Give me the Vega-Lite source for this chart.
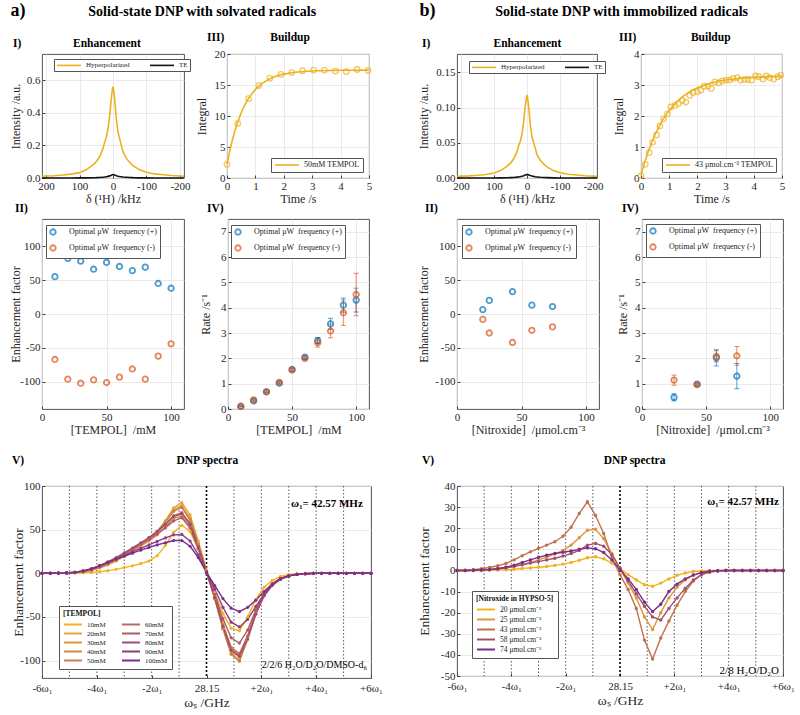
{
 "$schema": "https://vega.github.io/schema/vega-lite/v6.json",
 "padding": {"left": 8, "top": 2, "right": 0, "bottom": 0},
 "background": "white",
 "config": {
  "font": "Liberation Serif",
  "view": {"stroke": "#404040", "strokeWidth": 0.9},
  "axis": {"labelFont": "Liberation Serif", "labelFontSize": 11, "labelColor": "#262626", "titleFont": "Liberation Serif", "titleFontSize": 12, "titleFontWeight": "normal", "titleColor": "#262626", "domain": false, "gridColor": "#e4e4e4", "gridWidth": 0.8, "tickColor": "#404040", "tickSize": -3, "labelPadding": 5, "titlePadding": 2, "labelFlush": false, "labelOverlap": false},
  "legend": {"labelFont": "Liberation Serif", "titleFont": "Liberation Serif", "labelColor": "#222", "titleColor": "#111"},
  "title": {"font": "Liberation Serif", "fontSize": 11.5, "fontWeight": "bold", "color": "#000", "anchor": "start", "frame": "group", "offset": 5},
  "text": {"font": "Liberation Serif"}
 },
 "datasets": {
  "specL": [
   {"k":212,"Hyperpolarized":0.011,"TE":0},{"k":200,"Hyperpolarized":0.012,"TE":0},{"k":175,"Hyperpolarized":0.014,"TE":0},{"k":150,"Hyperpolarized":0.018,"TE":0},{"k":125,"Hyperpolarized":0.024,"TE":0.0002},{"k":100,"Hyperpolarized":0.033,"TE":0.0005},{"k":80,"Hyperpolarized":0.05,"TE":0.001},{"k":60,"Hyperpolarized":0.08,"TE":0.0015},{"k":50,"Hyperpolarized":0.1,"TE":0.002},{"k":40,"Hyperpolarized":0.13,"TE":0.003},{"k":30,"Hyperpolarized":0.18,"TE":0.005},{"k":25,"Hyperpolarized":0.22,"TE":0.006},{"k":20,"Hyperpolarized":0.25,"TE":0.008},{"k":15,"Hyperpolarized":0.3,"TE":0.01},{"k":10,"Hyperpolarized":0.38,"TE":0.013},{"k":5,"Hyperpolarized":0.49,"TE":0.017},{"k":2,"Hyperpolarized":0.54,"TE":0.02},{"k":0,"Hyperpolarized":0.56,"TE":0.021},{"k":-2,"Hyperpolarized":0.54,"TE":0.02},{"k":-5,"Hyperpolarized":0.48,"TE":0.018},{"k":-10,"Hyperpolarized":0.36,"TE":0.014},{"k":-15,"Hyperpolarized":0.28,"TE":0.011},{"k":-20,"Hyperpolarized":0.24,"TE":0.009},{"k":-25,"Hyperpolarized":0.2,"TE":0.0075},{"k":-30,"Hyperpolarized":0.16,"TE":0.006},{"k":-40,"Hyperpolarized":0.12,"TE":0.0045},{"k":-50,"Hyperpolarized":0.095,"TE":0.003},{"k":-60,"Hyperpolarized":0.075,"TE":0.002},{"k":-80,"Hyperpolarized":0.05,"TE":0.001},{"k":-100,"Hyperpolarized":0.035,"TE":0.0005},{"k":-125,"Hyperpolarized":0.025,"TE":0.0002},{"k":-150,"Hyperpolarized":0.02,"TE":0},{"k":-175,"Hyperpolarized":0.015,"TE":0},{"k":-200,"Hyperpolarized":0.012,"TE":0},{"k":-212,"Hyperpolarized":0.011,"TE":0}
  ],
  "specR": [
   {"k":212,"Hyperpolarized":0.0023,"TE":0},{"k":200,"Hyperpolarized":0.0025,"TE":0},{"k":175,"Hyperpolarized":0.003,"TE":0},{"k":150,"Hyperpolarized":0.0038,"TE":0},{"k":125,"Hyperpolarized":0.005,"TE":0},{"k":100,"Hyperpolarized":0.007,"TE":0.0001},{"k":80,"Hyperpolarized":0.0105,"TE":0.0002},{"k":60,"Hyperpolarized":0.0168,"TE":0.0004},{"k":50,"Hyperpolarized":0.021,"TE":0.0005},{"k":40,"Hyperpolarized":0.0273,"TE":0.0007},{"k":30,"Hyperpolarized":0.0378,"TE":0.0012},{"k":25,"Hyperpolarized":0.0462,"TE":0.0015},{"k":20,"Hyperpolarized":0.0525,"TE":0.002},{"k":15,"Hyperpolarized":0.063,"TE":0.0025},{"k":10,"Hyperpolarized":0.08,"TE":0.0032},{"k":5,"Hyperpolarized":0.103,"TE":0.0042},{"k":2,"Hyperpolarized":0.113,"TE":0.0048},{"k":0,"Hyperpolarized":0.118,"TE":0.005},{"k":-2,"Hyperpolarized":0.113,"TE":0.0048},{"k":-5,"Hyperpolarized":0.101,"TE":0.0043},{"k":-10,"Hyperpolarized":0.0756,"TE":0.0035},{"k":-15,"Hyperpolarized":0.0588,"TE":0.0028},{"k":-20,"Hyperpolarized":0.0504,"TE":0.0023},{"k":-25,"Hyperpolarized":0.042,"TE":0.0018},{"k":-30,"Hyperpolarized":0.0336,"TE":0.0015},{"k":-40,"Hyperpolarized":0.0252,"TE":0.001},{"k":-50,"Hyperpolarized":0.02,"TE":0.0007},{"k":-60,"Hyperpolarized":0.0158,"TE":0.0005},{"k":-80,"Hyperpolarized":0.0105,"TE":0.0002},{"k":-100,"Hyperpolarized":0.0074,"TE":0.0001},{"k":-125,"Hyperpolarized":0.0053,"TE":0},{"k":-150,"Hyperpolarized":0.0042,"TE":0},{"k":-175,"Hyperpolarized":0.0032,"TE":0},{"k":-200,"Hyperpolarized":0.0025,"TE":0},{"k":-212,"Hyperpolarized":0.0023,"TE":0}
  ],
  "fitL": [{"t":0,"y":2.2},{"t":0.1,"y":4.43},{"t":0.2,"y":6.34},{"t":0.3,"y":7.96},{"t":0.4,"y":9.34},{"t":0.5,"y":10.53},{"t":0.6,"y":11.53},{"t":0.7,"y":12.4},{"t":0.8,"y":13.13},{"t":1.0,"y":14.29},{"t":1.2,"y":15.14},{"t":1.4,"y":15.75},{"t":1.6,"y":16.2},{"t":1.8,"y":16.53},{"t":2.0,"y":16.76},{"t":2.4,"y":17.06},{"t":2.8,"y":17.22},{"t":3.2,"y":17.31},{"t":3.6,"y":17.35},{"t":4.0,"y":17.37},{"t":4.5,"y":17.39},{"t":5.0,"y":17.4}],
  "ptsL": [{"t":0,"y":2.2},{"t":0.38,"y":8.8},{"t":0.76,"y":12.8},{"t":1.12,"y":14.9},{"t":1.51,"y":16.1},{"t":1.9,"y":16.7},{"t":2.28,"y":17.0},{"t":2.66,"y":17.3},{"t":3.05,"y":17.4},{"t":3.43,"y":17.4},{"t":3.82,"y":17.25},{"t":4.2,"y":17.15},{"t":4.58,"y":17.5},{"t":4.97,"y":17.35}],
  "fitR": [{"t":0,"y":0.1},{"t":0.1,"y":0.42},{"t":0.25,"y":0.84},{"t":0.5,"y":1.41},{"t":0.75,"y":1.85},{"t":1.0,"y":2.18},{"t":1.25,"y":2.44},{"t":1.5,"y":2.64},{"t":1.75,"y":2.79},{"t":2.0,"y":2.91},{"t":2.5,"y":3.07},{"t":3.0,"y":3.16},{"t":3.5,"y":3.22},{"t":4.0,"y":3.25},{"t":4.5,"y":3.27},{"t":5.0,"y":3.28}],
  "ptsR": [{"t":0,"y":0.08},{"t":0.15,"y":0.44},{"t":0.29,"y":0.82},{"t":0.41,"y":1.15},{"t":0.55,"y":1.39},{"t":0.67,"y":1.68},{"t":0.8,"y":1.91},{"t":0.94,"y":2.07},{"t":1.06,"y":2.29},{"t":1.2,"y":2.34},{"t":1.33,"y":2.4},{"t":1.47,"y":2.5},{"t":1.59,"y":2.45},{"t":1.73,"y":2.67},{"t":1.85,"y":2.76},{"t":2.0,"y":2.78},{"t":2.12,"y":2.83},{"t":2.24,"y":2.96},{"t":2.38,"y":2.96},{"t":2.49,"y":2.89},{"t":2.62,"y":3.1},{"t":2.76,"y":3.07},{"t":2.88,"y":3.13},{"t":3.02,"y":3.16},{"t":3.14,"y":3.16},{"t":3.27,"y":3.21},{"t":3.41,"y":3.24},{"t":3.53,"y":3.16},{"t":3.67,"y":3.18},{"t":3.79,"y":3.18},{"t":3.92,"y":3.16},{"t":4.06,"y":3.29},{"t":4.18,"y":3.27},{"t":4.32,"y":3.19},{"t":4.44,"y":3.29},{"t":4.56,"y":3.24},{"t":4.71,"y":3.19},{"t":4.85,"y":3.27},{"t":4.96,"y":3.32}],
  "efL": [{"c":10,"f":"+","e":55},{"c":20,"f":"+","e":82},{"c":30,"f":"+","e":78},{"c":40,"f":"+","e":66},{"c":50,"f":"+","e":76},{"c":60,"f":"+","e":70},{"c":70,"f":"+","e":64},{"c":80,"f":"+","e":69},{"c":90,"f":"+","e":45},{"c":100,"f":"+","e":38},{"c":10,"f":"-","e":-67},{"c":20,"f":"-","e":-96},{"c":30,"f":"-","e":-102},{"c":40,"f":"-","e":-97},{"c":50,"f":"-","e":-101},{"c":60,"f":"-","e":-93},{"c":70,"f":"-","e":-81},{"c":80,"f":"-","e":-96},{"c":90,"f":"-","e":-62},{"c":100,"f":"-","e":-44}],
  "rateL": [{"c":10,"f":"+","r":0.1,"err":0.02},{"c":20,"f":"+","r":0.32,"err":0.04},{"c":30,"f":"+","r":0.68,"err":0.03},{"c":40,"f":"+","r":1.02,"err":0.04},{"c":50,"f":"+","r":1.56,"err":0.05},{"c":60,"f":"+","r":2.05,"err":0.06},{"c":70,"f":"+","r":2.7,"err":0.12},{"c":80,"f":"+","r":3.36,"err":0.22},{"c":90,"f":"+","r":4.1,"err":0.28},{"c":100,"f":"+","r":4.3,"err":0.47},{"c":10,"f":"-","r":0.11,"err":0.02},{"c":20,"f":"-","r":0.36,"err":0.04},{"c":30,"f":"-","r":0.68,"err":0.04},{"c":40,"f":"-","r":1.05,"err":0.04},{"c":50,"f":"-","r":1.54,"err":0.05},{"c":60,"f":"-","r":2.0,"err":0.05},{"c":70,"f":"-","r":2.62,"err":0.18},{"c":80,"f":"-","r":3.08,"err":0.27},{"c":90,"f":"-","r":3.8,"err":0.5},{"c":100,"f":"-","r":4.52,"err":0.84}],
  "efR": [{"c":20,"f":"+","e":6.5},{"c":25,"f":"+","e":20},{"c":43,"f":"+","e":33},{"c":58,"f":"+","e":13},{"c":74,"f":"+","e":11},{"c":20,"f":"-","e":-8},{"c":25,"f":"-","e":-28},{"c":43,"f":"-","e":-42},{"c":58,"f":"-","e":-24},{"c":74,"f":"-","e":-19}],
  "rateR": [{"c":25,"f":"+","r":0.46,"err":0.14},{"c":43,"f":"+","r":0.98,"err":0.04},{"c":58,"f":"+","r":2.02,"err":0.32},{"c":74,"f":"+","r":1.3,"err":0.5},{"c":25,"f":"-","r":1.14,"err":0.2},{"c":43,"f":"-","r":0.96,"err":0.03},{"c":58,"f":"-","r":2.08,"err":0.22},{"c":74,"f":"-","r":2.1,"err":0.37}],
  "grid": [{"g":-5},{"g":-4},{"g":-3},{"g":-2},{"g":-1},{"g":1},{"g":2},{"g":3},{"g":4},{"g":5}],
  "dnpL": [
   {"u":-6,"10":0,"20":0,"30":0,"40":0,"50":0,"60":0,"70":0,"80":0,"90":0,"100":0},
   {"u":-5.7,"10":0,"20":0,"30":0,"40":0,"50":0,"60":0,"70":0,"80":0,"90":0.1,"100":0.1},
   {"u":-5.4,"10":0,"20":0.1,"30":0.1,"40":0.1,"50":0.1,"60":0.1,"70":0.2,"80":0.2,"90":0.2,"100":0.2},
   {"u":-5.1,"10":0.1,"20":0.3,"30":0.3,"40":0.3,"50":0.4,"60":0.4,"70":0.5,"80":0.5,"90":0.5,"100":0.5},
   {"u":-4.8,"10":0.2,"20":0.7,"30":0.8,"40":0.8,"50":0.9,"60":1,"70":1,"80":1.1,"90":1.2,"100":1.2},
   {"u":-4.5,"10":0.5,"20":1.6,"30":1.8,"40":1.8,"50":2,"60":2.2,"70":2.3,"80":2.5,"90":2.7,"100":2.8},
   {"u":-4.2,"10":1,"20":3.2,"30":3.6,"40":3.6,"50":4,"60":4.3,"70":4.5,"80":4.8,"90":5,"100":5.2},
   {"u":-3.9,"10":1.8,"20":6,"30":6.6,"40":6.6,"50":7,"60":7.5,"70":8,"80":8.5,"90":8.5,"100":8.8},
   {"u":-3.6,"10":3,"20":9.5,"30":10.5,"40":10.5,"50":11,"60":11.5,"70":12,"80":13,"90":12.5,"100":12.5},
   {"u":-3.3,"10":4.5,"20":14,"30":15.5,"40":15,"50":16,"60":16.5,"70":17,"80":18,"90":16.5,"100":16},
   {"u":-3,"10":6.5,"20":19.5,"30":21,"40":20,"50":21.5,"60":22,"70":22.5,"80":23.5,"90":20.5,"100":19.5},
   {"u":-2.7,"10":8.5,"20":25.5,"30":27,"40":25.5,"50":27.5,"60":28,"70":28,"80":29,"90":24.5,"100":23},
   {"u":-2.4,"10":11,"20":31.5,"30":33,"40":31,"50":33.5,"60":34,"70":33.5,"80":35,"90":28.5,"100":26.5},
   {"u":-2.1,"10":14,"20":38.5,"30":40,"40":37,"50":40,"60":40,"70":39,"80":41,"90":32.5,"100":29.5},
   {"u":-1.8,"10":20,"20":47,"30":48,"40":44,"50":47.5,"60":47,"70":45,"80":48,"90":36.5,"100":32.5},
   {"u":-1.5,"10":32,"20":60,"30":60,"40":53,"50":58,"60":56,"70":52,"80":56,"90":40.5,"100":35},
   {"u":-1.2,"10":47,"20":75,"30":73,"40":63,"50":71,"60":66,"70":60,"80":65,"90":44,"100":37.5},
   {"u":-0.9,"10":55,"20":81,"30":77.5,"40":65.5,"50":75.5,"60":69.5,"70":63.5,"80":68.5,"90":44.5,"100":37.5},
   {"u":-0.6,"10":48,"20":67,"30":63,"40":53,"50":61,"60":57,"70":52,"80":56,"90":37,"100":31},
   {"u":-0.3,"10":28,"20":37,"30":34,"40":28,"50":33,"60":31,"70":28,"80":30,"90":21,"100":18},
   {"u":0,"10":2,"20":4,"30":2,"40":1,"50":2,"60":2,"70":1.5,"80":1.5,"90":1,"100":1},
   {"u":0.3,"10":-22,"20":-25,"30":-29,"40":-28,"50":-29,"60":-27,"70":-24,"80":-28,"90":-18,"100":-14},
   {"u":0.6,"10":-46,"20":-58,"30":-64,"40":-61,"50":-63,"60":-59,"70":-52,"80":-61,"90":-39,"100":-29},
   {"u":0.9,"10":-63,"20":-86,"30":-93,"40":-89,"50":-92,"60":-85,"70":-74,"80":-88,"90":-56,"100":-40},
   {"u":1.2,"10":-66,"20":-95,"30":-101,"40":-96,"50":-100,"60":-92,"70":-80,"80":-95,"90":-61.5,"100":-44},
   {"u":1.5,"10":-50,"20":-72,"30":-75,"40":-72,"50":-76,"60":-72,"70":-65,"80":-75,"90":-53,"100":-39},
   {"u":1.8,"10":-30,"20":-43,"30":-44,"40":-43,"50":-46,"60":-45,"70":-42,"80":-47,"90":-38,"100":-31},
   {"u":2.1,"10":-16,"20":-23,"30":-24,"40":-23,"50":-25,"60":-25,"70":-24,"80":-26,"90":-24,"100":-21},
   {"u":2.4,"10":-8,"20":-12,"30":-12.5,"40":-12,"50":-13,"60":-13,"70":-13,"80":-14,"90":-13,"100":-12},
   {"u":2.7,"10":-3.5,"20":-6,"30":-6.2,"40":-6,"50":-6.5,"60":-6.5,"70":-6.5,"80":-7,"90":-6.5,"100":-6},
   {"u":3,"10":-1.5,"20":-2.8,"30":-3,"40":-2.8,"50":-3,"60":-3,"70":-3,"80":-3.2,"90":-3,"100":-3},
   {"u":3.3,"10":-0.6,"20":-1.2,"30":-1.3,"40":-1.2,"50":-1.3,"60":-1.3,"70":-1.3,"80":-1.4,"90":-1.3,"100":-1.3},
   {"u":3.6,"10":-0.2,"20":-0.5,"30":-0.5,"40":-0.5,"50":-0.5,"60":-0.5,"70":-0.5,"80":-0.5,"90":-0.5,"100":-0.5},
   {"u":3.9,"10":0,"20":-0.1,"30":-0.1,"40":-0.1,"50":-0.1,"60":-0.1,"70":-0.1,"80":-0.1,"90":-0.1,"100":-0.1},
   {"u":4.2,"10":0,"20":0,"30":0,"40":0,"50":0,"60":0,"70":0,"80":0,"90":0,"100":0},
   {"u":4.5,"10":0,"20":0,"30":0,"40":0,"50":0,"60":0,"70":0,"80":0,"90":0,"100":0},
   {"u":4.8,"10":0,"20":0,"30":0,"40":0,"50":0,"60":0,"70":0,"80":0,"90":0,"100":0},
   {"u":5.1,"10":0,"20":0,"30":0,"40":0,"50":0,"60":0,"70":0,"80":0,"90":0,"100":0},
   {"u":5.4,"10":0,"20":0,"30":0,"40":0,"50":0,"60":0,"70":0,"80":0,"90":0,"100":0},
   {"u":5.7,"10":0,"20":0,"30":0,"40":0,"50":0,"60":0,"70":0,"80":0,"90":0,"100":0},
   {"u":6,"10":0,"20":0,"30":0,"40":0,"50":0,"60":0,"70":0,"80":0,"90":0,"100":0}
  ],
  "dnpR": [
   {"u":-6,"20":0,"25":0,"43":0,"58":0,"74":0},
   {"u":-5.7,"20":0,"25":0,"43":0.1,"58":0,"74":0},
   {"u":-5.4,"20":0,"25":0,"43":0.3,"58":0.1,"74":0.1},
   {"u":-5.1,"20":0,"25":0.2,"43":0.8,"58":0.3,"74":0.2},
   {"u":-4.8,"20":0.1,"25":0.4,"43":1.4,"58":0.5,"74":0.4},
   {"u":-4.5,"20":0.2,"25":0.8,"43":2.2,"58":0.8,"74":0.8},
   {"u":-4.2,"20":0.3,"25":1.3,"43":3.3,"58":1.3,"74":1.5},
   {"u":-3.9,"20":0.6,"25":2.0,"43":5.0,"58":2.0,"74":2.5},
   {"u":-3.6,"20":0.9,"25":2.8,"43":7.0,"58":2.7,"74":3.8},
   {"u":-3.3,"20":1.2,"25":3.8,"43":8.8,"58":3.5,"74":5.0},
   {"u":-3,"20":1.5,"25":5.0,"43":10.5,"58":4.2,"74":6.2},
   {"u":-2.7,"20":1.9,"25":6.3,"43":12.0,"58":5.0,"74":7.2},
   {"u":-2.4,"20":2.4,"25":7.8,"43":13.6,"58":5.8,"74":8.0},
   {"u":-2.1,"20":3.0,"25":9.5,"43":16.2,"58":6.8,"74":8.6},
   {"u":-1.8,"20":3.8,"25":12,"43":20.5,"58":8.0,"74":9.2},
   {"u":-1.5,"20":4.8,"25":15.5,"43":27,"58":9.5,"74":10.0},
   {"u":-1.2,"20":6.0,"25":19,"43":32.5,"58":12,"74":10.7},
   {"u":-0.9,"20":6.5,"25":19.5,"43":26,"58":12.8,"74":10.3},
   {"u":-0.6,"20":5.5,"25":15,"43":17.5,"58":11.5,"74":8.5},
   {"u":-0.3,"20":3.5,"25":8,"43":6,"58":7.5,"74":5},
   {"u":0,"20":0.8,"25":1,"43":-2,"58":1,"74":0.5},
   {"u":0.3,"20":-2,"25":-6,"43":-9,"58":-5,"74":-4},
   {"u":0.6,"20":-4.5,"25":-13,"43":-18,"58":-11,"74":-9},
   {"u":0.9,"20":-6.8,"25":-22,"43":-33,"58":-17,"74":-15},
   {"u":1.2,"20":-7.5,"25":-28,"43":-42,"58":-22,"74":-19.5},
   {"u":1.5,"20":-6,"25":-20,"43":-32,"58":-23.5,"74":-16},
   {"u":1.8,"20":-4,"25":-13,"43":-24,"58":-18,"74":-10},
   {"u":2.1,"20":-2.3,"25":-8,"43":-16.5,"58":-13,"74":-6.5},
   {"u":2.4,"20":-1.2,"25":-4.5,"43":-10,"58":-8.5,"74":-4},
   {"u":2.7,"20":-0.5,"25":-2.2,"43":-5,"58":-4.5,"74":-2.2},
   {"u":3,"20":-0.2,"25":-1,"43":-2,"58":-2,"74":-1},
   {"u":3.3,"20":0,"25":-0.4,"43":-0.7,"58":-0.8,"74":-0.4},
   {"u":3.6,"20":0,"25":-0.1,"43":-0.2,"58":-0.3,"74":-0.1},
   {"u":3.9,"20":0,"25":0,"43":0,"58":0,"74":0},
   {"u":4.2,"20":0,"25":0,"43":0,"58":0,"74":0},
   {"u":4.5,"20":0,"25":0,"43":0,"58":0,"74":0},
   {"u":4.8,"20":0,"25":0,"43":0,"58":0,"74":0},
   {"u":5.1,"20":0,"25":0,"43":0,"58":0,"74":0},
   {"u":5.4,"20":0,"25":0,"43":0,"58":0,"74":0},
   {"u":5.7,"20":0,"25":0,"43":0,"58":0,"74":0},
   {"u":6,"20":0,"25":0,"43":0,"58":0,"74":0}
  ]
 },
 "hconcat": [
  {
   "title": {"text": "a)", "anchor": "start", "frame": "bounds", "fontSize": 18, "offset": -15, "dx": 2},
   "spacing": 18,
   "resolve": {"scale": {"color": "independent"}, "legend": {"color": "independent"}},
   "vconcat": [
    {
     "title": {"text": "Solid-state DNP with solvated radicals", "anchor": "middle", "frame": "bounds", "fontSize": 14, "offset": 12, "dx": 11},
     "spacing": -3,
     "resolve": {"scale": {"color": "independent"}, "legend": {"color": "independent"}},
     "vconcat": [
      {
       "bounds": "flush", "spacing": 43,
       "resolve": {"scale": {"color": "independent"}, "legend": {"color": "independent"}},
       "hconcat": [
        {
         "width": 142, "height": 124,
         "title": {"text": "I)\u00a0\u00a0\u00a0\u00a0\u00a0\u00a0\u00a0\u00a0\u00a0\u00a0\u00a0\u00a0\u00a0\u00a0\u00a0\u00a0\u00a0\u00a0Enhancement", "dx": -29},
         "data": {"name": "specL"},
         "transform": [{"fold": ["Hyperpolarized", "TE"], "as": ["series", "I"]}],
         "mark": {"type": "line", "strokeWidth": 1.6},
         "encoding": {
          "x": {"field": "k", "type": "quantitative", "scale": {"domain": [-212, 212], "reverse": true, "nice": false}, "axis": {"values": [-200, -100, 0, 100, 200], "labelExpr": "replace(datum.label, '−', '-')", "title": "δ (¹H) /kHz"}},
          "y": {"field": "I", "type": "quantitative", "scale": {"domain": [0, 0.76], "nice": false}, "axis": {"values": [0, 0.2, 0.4, 0.6], "title": "Intensity /a.u.", "titleX": -20}},
          "color": {"field": "series", "type": "nominal", "scale": {"domain": ["Hyperpolarized", "TE"], "range": ["#EDB120", "#111111"]}, "legend": {"orient": "none", "legendX": 12, "legendY": 5, "direction": "horizontal", "title": null, "symbolType": "M-1,0H7", "symbolSize": 36, "symbolStrokeWidth": 1.6, "labelFontSize": 7, "labelOffset": 22, "fillColor": "white", "strokeColor": "#555", "padding": 2, "columnPadding": 16}}
         }
        },
        {
         "width": 142, "height": 124,
         "title": {"text": "III)\u00a0\u00a0\u00a0\u00a0\u00a0\u00a0\u00a0\u00a0\u00a0\u00a0\u00a0\u00a0\u00a0\u00a0\u00a0\u00a0Buildup", "dx": -20},
         "encoding": {
          "x": {"field": "t", "type": "quantitative", "scale": {"domain": [0, 5], "nice": false}, "axis": {"values": [0, 1, 2, 3, 4, 5], "title": "Time /s"}},
          "y": {"field": "y", "type": "quantitative", "scale": {"domain": [0, 20], "nice": false}, "axis": {"values": [0, 5, 10, 15, 20], "title": "Integral", "titleX": -19}}
         },
         "layer": [
          {"data": {"name": "fitL"}, "mark": {"type": "line", "strokeWidth": 1.6},
           "encoding": {
            "color": {"datum": "50mM TEMPOL", "type": "nominal", "scale": {"range": ["#EDB120"]}, "legend": {"orient": "bottom-right", "offset": 6, "title": null, "symbolType": "M-1,0H7", "symbolSize": 36, "symbolStrokeWidth": 1.6, "labelOffset": 22, "labelFontSize": 8, "fillColor": "white", "strokeColor": "#555", "padding": 3}}
           }},
          {"data": {"name": "ptsL"}, "mark": {"type": "point", "filled": false, "size": 30, "strokeWidth": 1.3, "color": "#EDB120"}}
         ]
        }
       ]
      },
      {
       "bounds": "flush", "spacing": 44,
       "resolve": {"scale": {"color": "independent"}, "legend": {"color": "independent"}},
       "hconcat": [
        {
         "width": 142, "height": 190,
         "title": {"text": "II)", "dx": -27},
         "data": {"name": "efL"},
         "mark": {"type": "point", "filled": false, "size": 30, "strokeWidth": 1.8},
         "encoding": {
          "x": {"field": "c", "type": "quantitative", "scale": {"domain": [0, 110], "nice": false}, "axis": {"values": [0, 50, 100], "title": "[TEMPOL]\u00a0 /mM"}},
          "y": {"field": "e", "type": "quantitative", "scale": {"domain": [-140, 140], "nice": false}, "axis": {"values": [-100, -50, 0, 50, 100], "labelExpr": "replace(datum.label, '−', '-')", "title": "Enhancement factor", "titleX": -20}},
          "color": {"field": "f", "type": "nominal", "scale": {"domain": ["+", "-"], "range": ["#0072BD", "#D95319"]}, "legend": {"orient": "none", "legendX": 4, "legendY": 6, "title": null, "labelExpr": "'Optimal μW\u00a0 frequency (' + datum.label + ')'", "labelFontSize": 8, "symbolSize": 30, "symbolStrokeWidth": 1.8, "fillColor": "white", "strokeColor": "#555", "padding": 3, "rowPadding": 2, "labelOffset": 12}}
         }
        },
        {
         "width": 141, "height": 190,
         "title": {"text": "IV)", "dx": -21},
         "data": {"name": "rateL"},
         "encoding": {
          "x": {"field": "c", "type": "quantitative", "scale": {"domain": [0, 110], "nice": false}, "axis": {"values": [0, 50, 100], "title": "[TEMPOL]\u00a0 /mM"}},
          "y": {"field": "r", "type": "quantitative", "scale": {"domain": [0, 7.5], "nice": false}, "axis": {"values": [0, 1, 2, 3, 4, 5, 6, 7], "title": "Rate /s⁻¹", "titleX": -16}}
         },
         "resolve": {"legend": {"color": "independent"}},
         "layer": [
          {"mark": {"type": "errorbar", "ticks": {"size": 5}, "thickness": 0.9, "opacity": 0.75}, "encoding": {"yError": {"field": "err"}, "color": {"field": "f", "type": "nominal", "scale": {"domain": ["+", "-"], "range": ["#0072BD", "#D95319"]}, "legend": null}}},
          {"mark": {"type": "point", "filled": false, "size": 30, "strokeWidth": 1.8}, "encoding": {"color": {"field": "f", "type": "nominal", "scale": {"domain": ["+", "-"], "range": ["#0072BD", "#D95319"]}, "legend": {"orient": "none", "legendX": 3, "legendY": 6, "title": null, "labelExpr": "'Optimal μW\u00a0 frequency (' + datum.label + ')'", "labelFontSize": 8, "symbolSize": 30, "symbolStrokeWidth": 1.8, "fillColor": "white", "strokeColor": "#555", "padding": 3, "rowPadding": 2, "labelOffset": 12}}}}
         ]
        }
       ]
      }
     ]
    },
    {
     "width": 329, "height": 192,
     "title": {"text": "V)\u00a0\u00a0\u00a0\u00a0\u00a0\u00a0\u00a0\u00a0\u00a0\u00a0\u00a0\u00a0\u00a0\u00a0\u00a0\u00a0\u00a0\u00a0\u00a0\u00a0\u00a0\u00a0\u00a0\u00a0\u00a0\u00a0\u00a0\u00a0\u00a0\u00a0\u00a0\u00a0\u00a0\u00a0\u00a0\u00a0\u00a0\u00a0\u00a0\u00a0\u00a0\u00a0\u00a0\u00a0\u00a0\u00a0\u00a0\u00a0\u00a0\u00a0\u00a0\u00a0\u00a0DNP spectra", "dx": -30, "offset": 14},
     "layer": [
      {"data": {"name": "grid"}, "mark": {"type": "rule", "strokeDash": [1.5, 2], "strokeWidth": 0.8, "color": "#303030"},
       "encoding": {"x": {"field": "g", "type": "quantitative", "scale": {"domain": [-6, 6], "nice": false}, "axis": {"values": [-6, -4, -2, 0, 2, 4, 6], "labelExpr": "datum.value == 0 ? '28.15' : (datum.value > 0 ? '+' : '-') + abs(datum.value) + 'ω₁'", "grid": false, "labelPadding": 7, "title": "ωₛ /GHz", "titleFontSize": 13.5}}}},
      {"data": {"values": [{}]}, "mark": {"type": "rule", "strokeDash": [2, 2], "strokeWidth": 1.6, "color": "#000"},
       "encoding": {"x": {"datum": 0, "type": "quantitative", "scale": {"domain": [-6, 6], "nice": false}, "axis": {"values": [-6, -4, -2, 0, 2, 4, 6], "labelExpr": "datum.value == 0 ? '28.15' : (datum.value > 0 ? '+' : '-') + abs(datum.value) + 'ω₁'", "grid": false, "labelPadding": 7, "title": "ωₛ /GHz", "titleFontSize": 13.5}}}},
      {"data": {"name": "dnpL"},
       "transform": [{"fold": ["10", "20", "30", "40", "50", "60", "70", "80", "90", "100"], "as": ["conc", "E"]}],
       "mark": {"type": "line", "strokeWidth": 1.4, "point": {"filled": true, "size": 10}},
       "encoding": {
        "x": {"field": "u", "type": "quantitative", "scale": {"domain": [-6, 6], "nice": false}, "axis": {"values": [-6, -4, -2, 0, 2, 4, 6], "labelExpr": "datum.value == 0 ? '28.15' : (datum.value > 0 ? '+' : '-') + abs(datum.value) + 'ω₁'", "grid": false, "labelPadding": 7, "title": "ωₛ /GHz", "titleFontSize": 13.5}},
        "y": {"field": "E", "type": "quantitative", "scale": {"domain": [-120, 100], "nice": false}, "axis": {"values": [-100, -50, 0, 50, 100], "labelExpr": "replace(datum.label, '−', '-')", "title": "Enhancement factor", "titleX": -17, "titleFontSize": 13.5}},
        "color": {"field": "conc", "type": "nominal", "scale": {"domain": ["10", "20", "30", "40", "50", "60", "70", "80", "90", "100"], "range": ["#F2B21C", "#E7A52E", "#DE983C", "#D48B46", "#C97E4E", "#BC6A5A", "#AD5A65", "#9F4C72", "#8E3D80", "#7B2D8B"]}, "legend": {"orient": "none", "legendX": 17, "legendY": 120, "title": "[TEMPOL]", "titleFontSize": 7.5, "titleFontWeight": "bold", "columns": 2, "labelExpr": "datum.label + 'mM'", "labelFontSize": 7, "symbolType": "M-1,0H5", "symbolSize": 36, "symbolStrokeWidth": 2, "labelOffset": 16, "fillColor": "white", "strokeColor": "#555", "padding": 4, "rowPadding": 1, "columnPadding": 12, "titlePadding": 3}}
       }},
      {"data": {"values": [{}]}, "mark": {"type": "text", "align": "right", "baseline": "middle", "fontWeight": "bold", "fontSize": 11},
       "encoding": {"x": {"datum": 5.7, "type": "quantitative", "scale": {"domain": [-6, 6], "nice": false}, "axis": {"values": [-6, -4, -2, 0, 2, 4, 6], "labelExpr": "datum.value == 0 ? '28.15' : (datum.value > 0 ? '+' : '-') + abs(datum.value) + 'ω₁'", "grid": false, "labelPadding": 7, "title": "ωₛ /GHz", "titleFontSize": 13.5}}, "y": {"datum": 79, "type": "quantitative", "scale": {"domain": [-120, 100], "nice": false}, "axis": {"values": [-100, -50, 0, 50, 100], "labelExpr": "replace(datum.label, '−', '-')", "title": "Enhancement factor", "titleX": -17, "titleFontSize": 13.5}}, "text": {"value": "ω₁= 42.57 MHz"}}},
      {"data": {"values": [{}]}, "mark": {"type": "text", "align": "right", "baseline": "middle", "fontSize": 10},
       "encoding": {"x": {"datum": 5.85, "type": "quantitative", "scale": {"domain": [-6, 6], "nice": false}, "axis": {"values": [-6, -4, -2, 0, 2, 4, 6], "labelExpr": "datum.value == 0 ? '28.15' : (datum.value > 0 ? '+' : '-') + abs(datum.value) + 'ω₁'", "grid": false, "labelPadding": 7, "title": "ωₛ /GHz", "titleFontSize": 13.5}}, "y": {"datum": -105, "type": "quantitative", "scale": {"domain": [-120, 100], "nice": false}, "axis": {"values": [-100, -50, 0, 50, 100], "labelExpr": "replace(datum.label, '−', '-')", "title": "Enhancement factor", "titleX": -17, "titleFontSize": 13.5}}, "text": {"value": "2/2/6 H₂O/D₂O/DMSO-d₆"}}}
     ]
    }
   ]
  },
  {
   "title": {"text": "b)", "anchor": "start", "frame": "bounds", "fontSize": 18, "offset": -15, "dx": 3},
   "spacing": 18,
   "resolve": {"scale": {"color": "independent"}, "legend": {"color": "independent"}},
   "vconcat": [
    {
     "title": {"text": "Solid-state DNP with immobilized radicals", "anchor": "middle", "frame": "bounds", "fontSize": 14, "offset": 12, "dx": 20},
     "spacing": -3,
     "resolve": {"scale": {"color": "independent"}, "legend": {"color": "independent"}},
     "vconcat": [
      {
       "bounds": "flush", "spacing": 44,
       "resolve": {"scale": {"color": "independent"}, "legend": {"color": "independent"}},
       "hconcat": [
        {
         "width": 140, "height": 124,
         "title": {"text": "I)\u00a0\u00a0\u00a0\u00a0\u00a0\u00a0\u00a0\u00a0\u00a0\u00a0\u00a0\u00a0\u00a0\u00a0\u00a0\u00a0\u00a0\u00a0\u00a0\u00a0\u00a0\u00a0Enhancement", "dx": -35},
         "data": {"name": "specR"},
         "transform": [{"fold": ["Hyperpolarized", "TE"], "as": ["series", "I"]}],
         "mark": {"type": "line", "strokeWidth": 1.6},
         "encoding": {
          "x": {"field": "k", "type": "quantitative", "scale": {"domain": [-212, 212], "reverse": true, "nice": false}, "axis": {"values": [-200, -100, 0, 100, 200], "labelExpr": "replace(datum.label, '−', '-')", "title": "δ (¹H) /kHz"}},
          "y": {"field": "I", "type": "quantitative", "scale": {"domain": [0, 0.176], "nice": false}, "axis": {"values": [0, 0.05, 0.1, 0.15], "title": "Intensity /a.u.", "titleX": -27}},
          "color": {"field": "series", "type": "nominal", "scale": {"domain": ["Hyperpolarized", "TE"], "range": ["#EDB120", "#111111"]}, "legend": {"orient": "none", "legendX": 12, "legendY": 7, "direction": "horizontal", "title": null, "symbolType": "M-1,0H7", "symbolSize": 36, "symbolStrokeWidth": 1.6, "labelFontSize": 7, "labelOffset": 22, "fillColor": "white", "strokeColor": "#555", "padding": 2, "columnPadding": 16}}
         }
        },
        {
         "width": 141, "height": 124,
         "title": {"text": "III)\u00a0\u00a0\u00a0\u00a0\u00a0\u00a0\u00a0\u00a0\u00a0\u00a0\u00a0\u00a0\u00a0\u00a0\u00a0\u00a0\u00a0\u00a0\u00a0Buildup", "dx": -22},
         "encoding": {
          "x": {"field": "t", "type": "quantitative", "scale": {"domain": [0, 5], "nice": false}, "axis": {"values": [0, 1, 2, 3, 4, 5], "title": "Time /s"}},
          "y": {"field": "y", "type": "quantitative", "scale": {"domain": [0, 4], "nice": false}, "axis": {"values": [0, 1, 2, 3, 4], "title": "Integral", "titleX": -16}}
         },
         "layer": [
          {"data": {"name": "fitR"}, "mark": {"type": "line", "strokeWidth": 1.6},
           "encoding": {
            "color": {"datum": "43 μmol.cm⁻³ TEMPOL", "type": "nominal", "scale": {"range": ["#EDB120"]}, "legend": {"orient": "bottom-right", "offset": 6, "title": null, "symbolType": "M-1,0H7", "symbolSize": 36, "symbolStrokeWidth": 1.6, "labelOffset": 22, "labelFontSize": 8, "fillColor": "white", "strokeColor": "#555", "padding": 3}}
           }},
          {"data": {"name": "ptsR"}, "mark": {"type": "point", "filled": false, "size": 30, "strokeWidth": 1.3, "color": "#EDB120"}}
         ]
        }
       ]
      },
      {
       "bounds": "flush", "spacing": 43,
       "resolve": {"scale": {"color": "independent"}, "legend": {"color": "independent"}},
       "hconcat": [
        {
         "width": 142, "height": 190,
         "title": {"text": "II)", "dx": -32},
         "data": {"name": "efR"},
         "mark": {"type": "point", "filled": false, "size": 30, "strokeWidth": 1.8},
         "encoding": {
          "x": {"field": "c", "type": "quantitative", "scale": {"domain": [0, 110], "nice": false}, "axis": {"values": [0, 50, 100], "title": "[Nitroxide]\u00a0 /μmol.cm⁻³"}},
          "y": {"field": "e", "type": "quantitative", "scale": {"domain": [-140, 140], "nice": false}, "axis": {"values": [-100, -50, 0, 50, 100], "labelExpr": "replace(datum.label, '−', '-')", "title": "Enhancement factor", "titleX": -27}},
          "color": {"field": "f", "type": "nominal", "scale": {"domain": ["+", "-"], "range": ["#0072BD", "#D95319"]}, "legend": {"orient": "none", "legendX": 5, "legendY": 6, "title": null, "labelExpr": "'Optimal μW\u00a0 frequency (' + datum.label + ')'", "labelFontSize": 8, "symbolSize": 30, "symbolStrokeWidth": 1.8, "fillColor": "white", "strokeColor": "#555", "padding": 3, "rowPadding": 2, "labelOffset": 12}}
         }
        },
        {
         "width": 141, "height": 190,
         "title": {"text": "IV)", "dx": -20},
         "data": {"name": "rateR"},
         "encoding": {
          "x": {"field": "c", "type": "quantitative", "scale": {"domain": [0, 110], "nice": false}, "axis": {"values": [0, 50, 100], "title": "[Nitroxide]\u00a0 /μmol.cm⁻³"}},
          "y": {"field": "r", "type": "quantitative", "scale": {"domain": [0, 7.5], "nice": false}, "axis": {"values": [0, 1, 2, 3, 4, 5, 6, 7], "title": "Rate /s⁻¹", "titleX": -13}}
         },
         "resolve": {"legend": {"color": "independent"}},
         "layer": [
          {"mark": {"type": "errorbar", "ticks": {"size": 5}, "thickness": 0.9, "opacity": 0.75}, "encoding": {"yError": {"field": "err"}, "color": {"field": "f", "type": "nominal", "scale": {"domain": ["+", "-"], "range": ["#0072BD", "#D95319"]}, "legend": null}}},
          {"mark": {"type": "point", "filled": false, "size": 30, "strokeWidth": 1.8}, "encoding": {"color": {"field": "f", "type": "nominal", "scale": {"domain": ["+", "-"], "range": ["#0072BD", "#D95319"]}, "legend": {"orient": "none", "legendX": 4, "legendY": 5, "title": null, "labelExpr": "'Optimal μW\u00a0 frequency (' + datum.label + ')'", "labelFontSize": 8, "symbolSize": 30, "symbolStrokeWidth": 1.8, "fillColor": "white", "strokeColor": "#555", "padding": 3, "rowPadding": 2, "labelOffset": 12}}}}
         ]
        }
       ]
      }
     ]
    },
    {
     "width": 326, "height": 190,
     "title": {"text": "V)\u00a0\u00a0\u00a0\u00a0\u00a0\u00a0\u00a0\u00a0\u00a0\u00a0\u00a0\u00a0\u00a0\u00a0\u00a0\u00a0\u00a0\u00a0\u00a0\u00a0\u00a0\u00a0\u00a0\u00a0\u00a0\u00a0\u00a0\u00a0\u00a0\u00a0\u00a0\u00a0\u00a0\u00a0\u00a0\u00a0\u00a0\u00a0\u00a0\u00a0\u00a0\u00a0\u00a0\u00a0\u00a0\u00a0\u00a0\u00a0\u00a0\u00a0\u00a0\u00a0\u00a0\u00a0\u00a0\u00a0\u00a0\u00a0\u00a0DNP spectra", "dx": -35, "offset": 14},
     "layer": [
      {"data": {"name": "grid"}, "mark": {"type": "rule", "strokeDash": [1.5, 2], "strokeWidth": 0.8, "color": "#303030"},
       "encoding": {"x": {"field": "g", "type": "quantitative", "scale": {"domain": [-6, 6], "nice": false}, "axis": {"values": [-6, -4, -2, 0, 2, 4, 6], "labelExpr": "datum.value == 0 ? '28.15' : (datum.value > 0 ? '+' : '-') + abs(datum.value) + 'ω₁'", "grid": false, "labelPadding": 7, "title": "ωₛ /GHz", "titleFontSize": 13.5}}}},
      {"data": {"values": [{}]}, "mark": {"type": "rule", "strokeDash": [2, 2], "strokeWidth": 1.6, "color": "#000"},
       "encoding": {"x": {"datum": 0, "type": "quantitative", "scale": {"domain": [-6, 6], "nice": false}, "axis": {"values": [-6, -4, -2, 0, 2, 4, 6], "labelExpr": "datum.value == 0 ? '28.15' : (datum.value > 0 ? '+' : '-') + abs(datum.value) + 'ω₁'", "grid": false, "labelPadding": 7, "title": "ωₛ /GHz", "titleFontSize": 13.5}}}},
      {"data": {"name": "dnpR"},
       "transform": [{"fold": ["20", "25", "43", "58", "74"], "as": ["conc", "E"]}],
       "mark": {"type": "line", "strokeWidth": 1.4, "point": {"filled": true, "size": 12}},
       "encoding": {
        "x": {"field": "u", "type": "quantitative", "scale": {"domain": [-6, 6], "nice": false}, "axis": {"values": [-6, -4, -2, 0, 2, 4, 6], "labelExpr": "datum.value == 0 ? '28.15' : (datum.value > 0 ? '+' : '-') + abs(datum.value) + 'ω₁'", "grid": false, "labelPadding": 7, "title": "ωₛ /GHz", "titleFontSize": 13.5}},
        "y": {"field": "E", "type": "quantitative", "scale": {"domain": [-50, 40], "nice": false}, "axis": {"values": [-50, -40, -30, -20, -10, 0, 10, 20, 30, 40], "labelExpr": "replace(datum.label, '−', '-')", "title": "Enhancement factor", "titleX": -26, "titleFontSize": 13.5}},
        "color": {"field": "conc", "type": "nominal", "scale": {"domain": ["20", "25", "43", "58", "74"], "range": ["#F2B21C", "#DE983C", "#C2704E", "#A4506C", "#7B2D8B"]}, "legend": {"orient": "none", "legendX": 15, "legendY": 105, "title": "[Nitroxide in HYPSO-5]", "titleFontSize": 7.5, "titleFontWeight": "bold", "labelExpr": "datum.label + ' μmol.cm⁻³'", "labelFontSize": 7.5, "symbolType": "M-1,0H5", "symbolSize": 36, "symbolStrokeWidth": 2, "labelOffset": 16, "fillColor": "white", "strokeColor": "#555", "padding": 4, "rowPadding": 2, "titlePadding": 3}}
       }},
      {"data": {"values": [{}]}, "mark": {"type": "text", "align": "right", "baseline": "middle", "fontWeight": "bold", "fontSize": 11},
       "encoding": {"x": {"datum": 5.85, "type": "quantitative", "scale": {"domain": [-6, 6], "nice": false}, "axis": {"values": [-6, -4, -2, 0, 2, 4, 6], "labelExpr": "datum.value == 0 ? '28.15' : (datum.value > 0 ? '+' : '-') + abs(datum.value) + 'ω₁'", "grid": false, "labelPadding": 7, "title": "ωₛ /GHz", "titleFontSize": 13.5}}, "y": {"datum": 32.5, "type": "quantitative", "scale": {"domain": [-50, 40], "nice": false}, "axis": {"values": [-50, -40, -30, -20, -10, 0, 10, 20, 30, 40], "labelExpr": "replace(datum.label, '−', '-')", "title": "Enhancement factor", "titleX": -26, "titleFontSize": 13.5}}, "text": {"value": "ω₁= 42.57 MHz"}}},
      {"data": {"values": [{}]}, "mark": {"type": "text", "align": "right", "baseline": "middle", "fontSize": 11},
       "encoding": {"x": {"datum": 5.85, "type": "quantitative", "scale": {"domain": [-6, 6], "nice": false}, "axis": {"values": [-6, -4, -2, 0, 2, 4, 6], "labelExpr": "datum.value == 0 ? '28.15' : (datum.value > 0 ? '+' : '-') + abs(datum.value) + 'ω₁'", "grid": false, "labelPadding": 7, "title": "ωₛ /GHz", "titleFontSize": 13.5}}, "y": {"datum": -47.5, "type": "quantitative", "scale": {"domain": [-50, 40], "nice": false}, "axis": {"values": [-50, -40, -30, -20, -10, 0, 10, 20, 30, 40], "labelExpr": "replace(datum.label, '−', '-')", "title": "Enhancement factor", "titleX": -26, "titleFontSize": 13.5}}, "text": {"value": "2/8 H₂O/D₂O"}}}
     ]
    }
   ]
  }
 ],
 "spacing": 33,
 "resolve": {"scale": {"color": "independent"}, "legend": {"color": "independent"}}
}
